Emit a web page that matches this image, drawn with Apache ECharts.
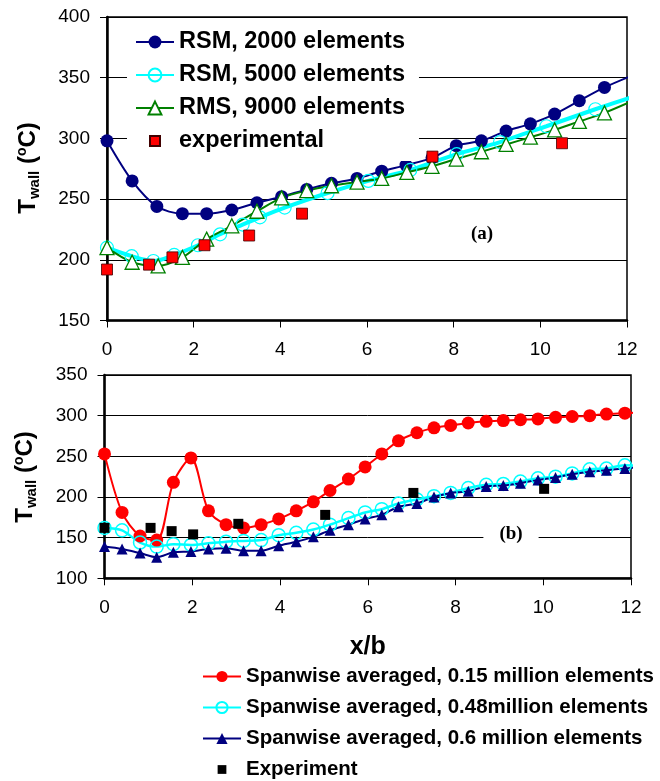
<!DOCTYPE html>
<html>
<head>
<meta charset="utf-8">
<script src="https://cdn.jsdelivr.net/npm/echarts@6/dist/echarts.min.js"></script>
<style>html,body{margin:0;padding:0;background:#fff;}#c{width:660px;height:781px;}</style>
</head>
<body>
<div id="c"></div>
<script>
// ---------- Panel (a) data ----------
var xTicksA = [0, 2, 4, 6, 8, 10, 12];
var rsm2000X = [0, 0.58, 1.15, 1.74, 2.30, 2.88, 3.46, 4.03, 4.61, 5.18, 5.77, 6.34, 6.90, 7.50, 8.06, 8.64, 9.21, 9.77, 10.33, 10.90, 11.48];
var rsm2000Y = [298, 265, 244, 238, 238, 241, 247, 252, 258, 263, 267, 273, 278, 284, 294, 298, 306, 312, 320, 331, 342];
var rsm2000Tail = [12.2, 353];
var rsm5000X = [0, 0.57, 1.07, 1.55, 2.10, 2.61, 3.13, 3.53, 4.10, 5.09, 6.03, 7.00, 8.07, 9.07, 10.14, 11.27];
var rsm5000Y = [210, 203, 199, 204, 212, 221, 229, 235, 243, 255, 265, 274, 287, 297, 310, 324];
var rsm5000Tail = [12.2, 335];
var rms9000X = [0, 0.58, 1.18, 1.74, 2.30, 2.88, 3.46, 4.03, 4.61, 5.18, 5.77, 6.34, 6.92, 7.50, 8.06, 8.64, 9.21, 9.77, 10.33, 10.90, 11.48];
var rms9000Y = [210, 198, 195, 202, 217, 228, 240, 251, 257, 261, 264, 267, 272, 277, 283, 289, 295, 301, 307, 314, 321];
var rms9000Tail = [12.2, 332];
var expAX = [0, 0.97, 1.51, 2.25, 3.28, 4.50, 7.51, 10.50];
var expAY = [192, 196, 202, 212, 220, 238, 285, 296];

// ---------- Panel (b) data ----------
var xB = [0, 0.40, 0.81, 1.19, 1.57, 1.97, 2.37, 2.77, 3.17, 3.57, 3.97, 4.37, 4.76, 5.14, 5.56, 5.94, 6.32, 6.70, 7.12, 7.51, 7.89, 8.29, 8.70, 9.09, 9.48, 9.88, 10.28, 10.66, 11.06, 11.44, 11.86];
var red015 = [253, 181, 152, 147, 218, 248, 183, 166, 162, 166, 173, 183, 194, 208, 222, 237, 253, 269, 279, 285, 288, 291, 293, 294, 295, 296, 298, 299, 300, 302, 303];
var red015Tail = [12.2, 304];
var cyan048 = [162, 159, 144, 139, 142, 141, 143, 145, 146, 147, 153, 156, 160, 166, 174, 181, 185, 192, 197, 201, 205, 211, 215, 216, 219, 223, 225, 229, 234, 235, 239];
var cyan048Tail = [12.2, 238];
var navy06 = [139, 136, 131, 126, 132, 133, 136, 137, 134, 134, 140, 145, 151, 159, 166, 173, 178, 188, 192, 200, 205, 207, 213, 214, 217, 221, 224, 228, 231, 233, 235];
var navy06Tail = [12.2, 237];
var expBX = [0, 1.05, 1.53, 2.02, 3.05, 5.03, 7.04, 10.02];
var expBY = [162, 162, 158, 154, 167, 178, 205, 210];

var namesA = ['RSM, 2000 elements', 'RSM, 5000 elements', 'RMS, 9000 elements', 'experimental'];
var namesB = ['Spanwise averaged, 0.15 million elements', 'Spanwise averaged, 0.48million elements', 'Spanwise averaged, 0.6 million elements', 'Experiment'];

function pts(xs, ys, tail) {
  var d = xs.map(function (x, i) { return [x, ys[i]]; });
  if (tail) d.push({ value: tail, symbol: 'none' });
  return d;
}

var SANS = '"Liberation Sans", Arial, sans-serif';
var SERIF = '"Liberation Serif", "Times New Roman", serif';
// small square centred in a larger invisible box
var SQUARE = 'path://M-3,-3M13,13M0,0L10,0L10,10L0,10Z';

function xAxisCfg(gi) {
  return {
    type: 'value', gridIndex: gi, min: 0, max: 12, interval: 2,
    axisLine: { show: true, onZero: false, lineStyle: { color: '#000', width: 2.5 } },
    axisTick: { show: true, length: 7, lineStyle: { color: '#000', width: 1 } },
    axisLabel: { color: '#000', fontSize: 19, fontFamily: SANS, margin: 20 },
    splitLine: { show: false }
  };
}
function yAxisCfg(gi, mn, mx) {
  return {
    type: 'value', gridIndex: gi, min: mn, max: mx, interval: 50,
    axisLine: { show: true, onZero: false, lineStyle: { color: '#000', width: 2.5 } },
    axisTick: { show: true, length: 7, lineStyle: { color: '#000', width: 1 } },
    axisLabel: { color: '#000', fontSize: 19, fontFamily: SANS, margin: 17 },
    splitLine: { show: true, lineStyle: { color: '#000', width: 1 } }
  };
}

var chart = echarts.init(document.getElementById('c'), null, { renderer: 'canvas' });
var yTitleRich = {
  t: { fontSize: 24, fontWeight: 'bold', fontFamily: SANS, color: '#000', lineHeight: 30, verticalAlign: 'middle' },
  s: { fontSize: 15, fontWeight: 'bold', fontFamily: SANS, color: '#000', lineHeight: 30, verticalAlign: 'bottom', padding: [0, 0, 1, 0] },
  p: { fontSize: 14, fontWeight: 'bold', fontFamily: SANS, color: '#000', lineHeight: 30, verticalAlign: 'top', padding: [2, 0, 0, 0] }
};
var yTitle = '{t|T}{s|wall}{t| (}{p|o}{t|C)}';

chart.setOption({
  animation: false,
  backgroundColor: '#fff',
  grid: [
    { left: 107, top: 17, width: 520, height: 303.5, show: true, borderColor: '#000', borderWidth: 1.5, backgroundColor: 'transparent' },
    { left: 104.5, top: 375, width: 526.5, height: 203.3, show: true, borderColor: '#000', borderWidth: 1.5, backgroundColor: 'transparent' }
  ],
  xAxis: [
    xAxisCfg(0),
    Object.assign(xAxisCfg(1), {
      name: 'x/b', nameLocation: 'middle', nameGap: 56,
      nameTextStyle: { color: '#000', fontSize: 25, fontWeight: 'bold', fontFamily: SANS }
    })
  ],
  yAxis: [yAxisCfg(0, 150, 400), yAxisCfg(1, 100, 350)],
  legend: [
    {
      data: [namesA[0], namesA[1], namesA[2], { name: namesA[3], icon: SQUARE }],
      orient: 'vertical', left: 127, top: 22, padding: [8, 14, 8, 8], symbolKeepAspect: true,
      backgroundColor: '#fff', itemWidth: 38, itemHeight: 16, itemGap: 9, selectedMode: false,
      textStyle: { color: '#000', fontSize: 23.5, fontWeight: 'bold', fontFamily: SANS }
    },
    {
      data: [namesB[0], namesB[1], namesB[2], { name: namesB[3], icon: SQUARE }],
      orient: 'vertical', left: 202, top: 666, padding: 0, symbolKeepAspect: true,
      itemWidth: 38, itemHeight: 14, itemGap: 10, selectedMode: false,
      textStyle: { color: '#000', fontSize: 20.5, fontWeight: 'bold', fontFamily: SANS }
    }
  ],
  graphic: [
    { type: 'text', x: 28, y: 168, rotation: Math.PI / 2,
      style: { text: yTitle, rich: yTitleRich, align: 'center', verticalAlign: 'middle' } },
    { type: 'text', x: 25, y: 477, rotation: Math.PI / 2,
      style: { text: yTitle, rich: yTitleRich, align: 'center', verticalAlign: 'middle' } },
    { type: 'text', x: 482, y: 234,
      style: { text: '(a)', font: 'bold 19px ' + SERIF, fill: '#000', align: 'center', verticalAlign: 'middle' } },
    { type: 'text', x: 511, y: 534, z: 10,
      style: { text: '(b)', font: 'bold 19px ' + SERIF, fill: '#000', align: 'center', verticalAlign: 'middle',
        backgroundColor: '#fff', padding: [2, 16, 2, 16] } }
  ],
  series: [
    { name: namesA[0], type: 'line', xAxisIndex: 0, yAxisIndex: 0, smooth: 0.3,
      data: pts(rsm2000X, rsm2000Y, rsm2000Tail), symbol: 'circle', symbolSize: 13,
      lineStyle: { color: '#000080', width: 2 }, itemStyle: { color: '#000080' } },
    { name: namesA[1], type: 'line', xAxisIndex: 0, yAxisIndex: 0, smooth: 0.3,
      data: pts(rsm5000X, rsm5000Y, rsm5000Tail), symbol: 'circle', symbolSize: 13,
      lineStyle: { color: '#00FFFF', width: 4 },
      itemStyle: { color: 'rgba(255,255,255,0)', borderColor: '#00FFFF', borderWidth: 1.2 } },
    { name: namesA[2], type: 'line', xAxisIndex: 0, yAxisIndex: 0, smooth: 0.3,
      data: pts(rms9000X, rms9000Y, rms9000Tail), symbol: 'triangle', symbolSize: 14,
      lineStyle: { color: '#008000', width: 2 },
      itemStyle: { color: '#ffffff', borderColor: '#008000', borderWidth: 1.3 } },
    { name: namesA[3], type: 'scatter', xAxisIndex: 0, yAxisIndex: 0, z: 5,
      data: pts(expAX, expAY), symbol: 'rect', symbolSize: 11,
      itemStyle: { color: '#FF0000', borderColor: '#400000', borderWidth: 0.8, opacity: 1 } },

    { name: namesB[0], type: 'line', xAxisIndex: 1, yAxisIndex: 1, smooth: 0.3,
      data: pts(xB, red015, red015Tail), symbol: 'circle', symbolSize: 13,
      lineStyle: { color: '#FF0000', width: 2 }, itemStyle: { color: '#FF0000' } },
    { name: namesB[1], type: 'line', xAxisIndex: 1, yAxisIndex: 1, smooth: 0.3,
      data: pts(xB, cyan048, cyan048Tail), symbol: 'circle', symbolSize: 13,
      lineStyle: { color: '#00FFFF', width: 2.5 },
      itemStyle: { color: 'rgba(255,255,255,0)', borderColor: '#00FFFF', borderWidth: 1.5 } },
    { name: namesB[2], type: 'line', xAxisIndex: 1, yAxisIndex: 1, smooth: 0.3,
      data: pts(xB, navy06, navy06Tail), symbol: 'triangle', symbolSize: 11,
      lineStyle: { color: '#000080', width: 2 }, itemStyle: { color: '#000080' } },
    { name: namesB[3], type: 'scatter', xAxisIndex: 1, yAxisIndex: 1, z: 5,
      data: pts(expBX, expBY), symbol: 'rect', symbolSize: 10,
      itemStyle: { color: '#000000', opacity: 1 } }
  ]
});
</script>
</body>
</html>
